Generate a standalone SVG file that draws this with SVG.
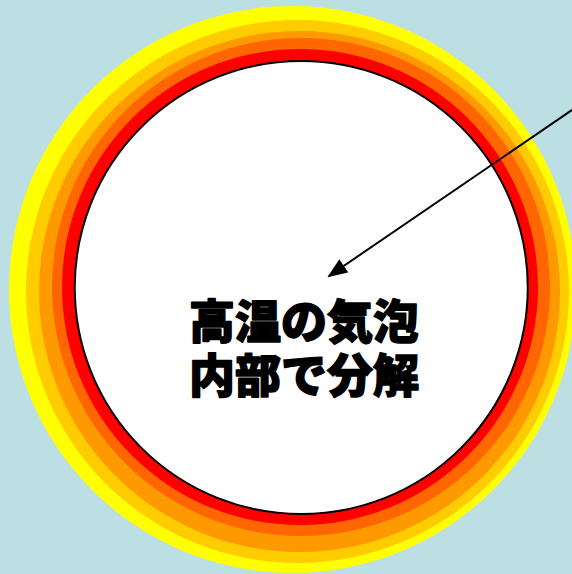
<svg xmlns="http://www.w3.org/2000/svg" width="572" height="574" viewBox="0 0 572 574">
  <style>
    .lbl { font-family: "Noto Sans CJK JP", "Noto Sans CJK SC", sans-serif; font-weight: 900; font-size: 46px; fill: #000; text-anchor: middle; stroke: #000; stroke-width: 1.5; stroke-linejoin: round; }
    .arrow { stroke: #000; stroke-width: 2; fill: none; }
  </style>
  <defs>
    <marker id="ah" markerWidth="10" markerHeight="8" refX="9" refY="4" orient="auto" markerUnits="strokeWidth">
      <path d="M0,0 L10,4 L0,8 Z" fill="#000"/>
    </marker>
  </defs>
  <rect width="572" height="574" fill="#BBDFE3"/>
  <g id="bubble">
    <circle cx="292.5" cy="289.5" r="283.5" fill="#FFFF00"/>
    <circle cx="297.5" cy="291.5" r="271.5" fill="#FFCC00"/>
    <circle cx="299.5" cy="291.5" r="260.5" fill="#FF9900"/>
    <circle cx="301" cy="287" r="249" fill="#FF6600"/>
    <circle cx="300" cy="287" r="238" fill="#FF0000"/>
    <circle cx="301.25" cy="287.5" r="226.5" fill="#FFFFFF" stroke="#000" stroke-width="2"/>
  </g>
  <g id="label">
    <text class="lbl" x="304" y="338"><tspan x="304" y="338">高温の気泡</tspan><tspan x="304" y="392">内部で分解</tspan></text>
  </g>
  <g id="connectors">
    <line class="arrow" x1="575" y1="108" x2="329" y2="276" marker-end="url(#ah)"/>
  </g>
</svg>
